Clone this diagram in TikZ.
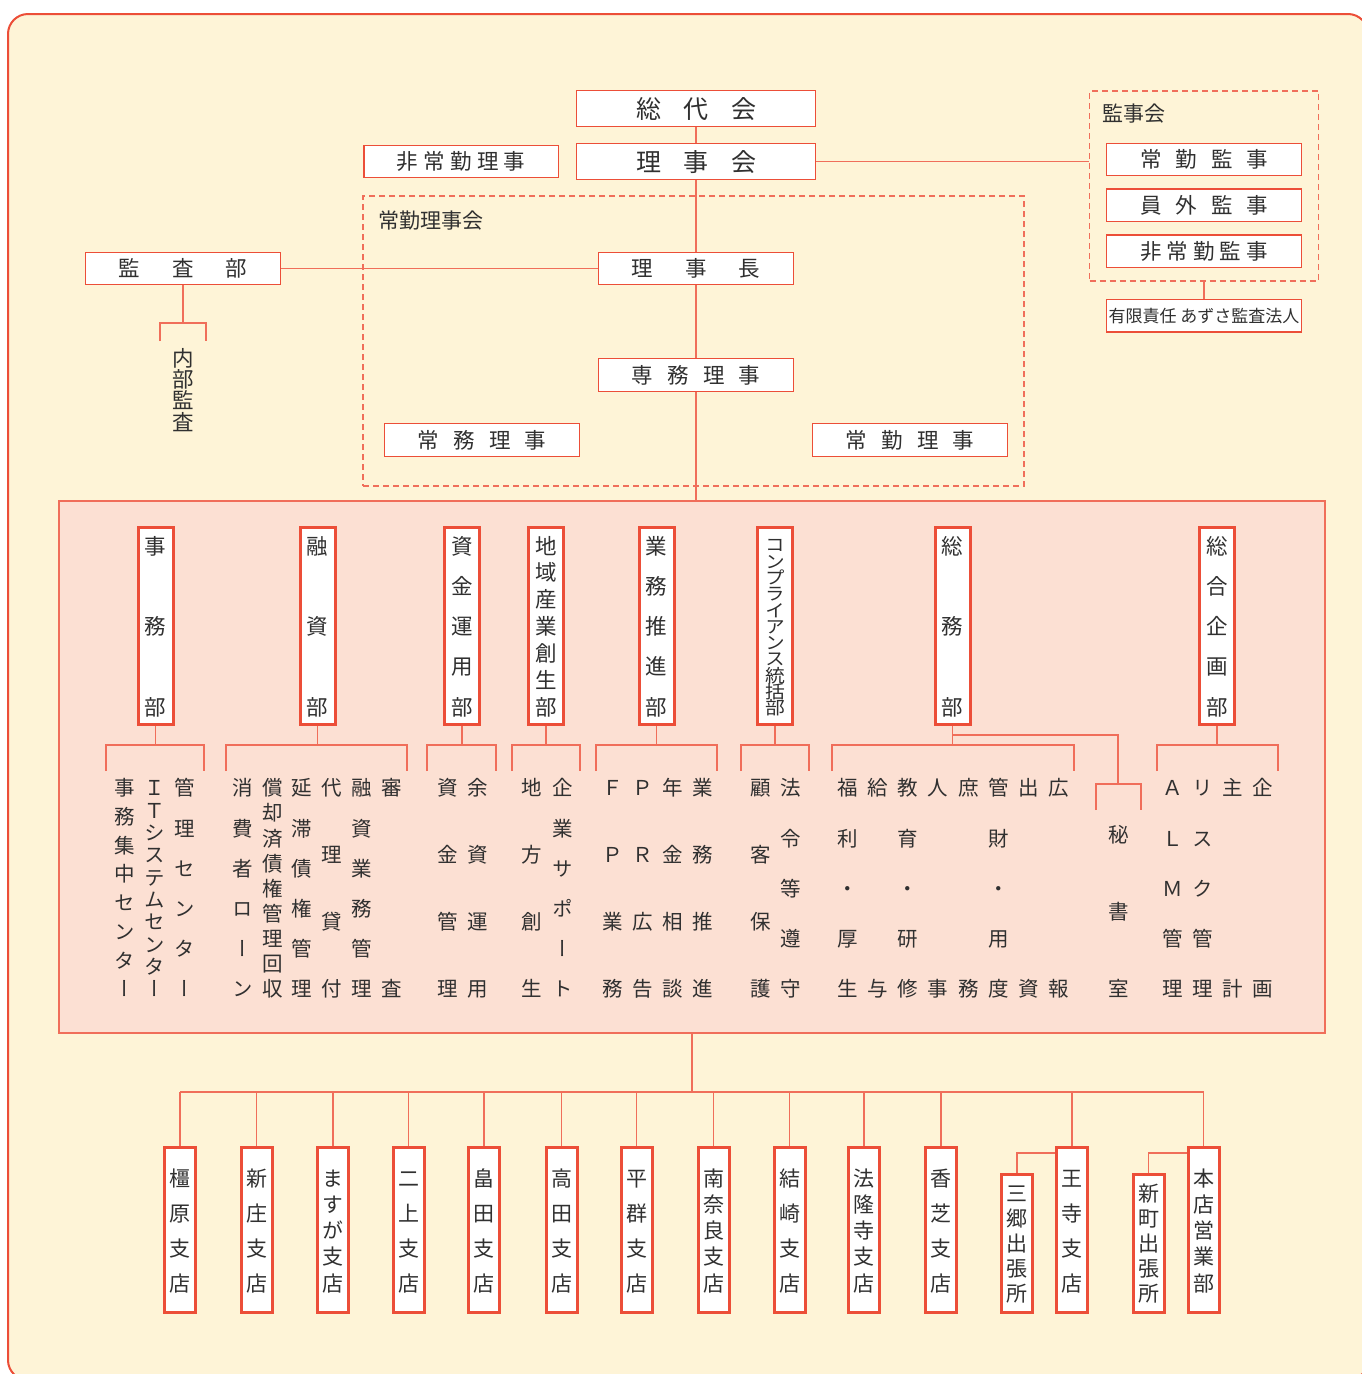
\documentclass[tikz,border=0pt]{standalone}
\usepackage{fontspec}
\setmainfont{Noto Sans CJK JP}
\newfontfamily\tatefont[RawFeature=+vert]{Noto Sans CJK JP}
\newfontfamily\tatewide[RawFeature=+vert, FakeStretch=1.1]{Noto Sans CJK JP}
\usetikzlibrary{positioning}
\definecolor{soshikiRed}{RGB}{236,78,56}
\definecolor{soshikiLine}{RGB}{240,110,90}
\definecolor{soshikiCream}{RGB}{254,244,215}
\definecolor{soshikiPink}{RGB}{252,224,211}
\definecolor{soshikiText}{RGB}{48,48,48}
% vertical text: style, name, x, first y, last y, count, chars
\newcommand{\tate}[7][]{%
  \foreach \ch [count=\k] in {#7}
    \node[tatechar,#1] (#2-\k) at (#3,{#4+(\k-1)*(#5-#4)/(#6-1)}) {\ch};%
}

\begin{document}
\begin{tikzpicture}[x=1pt, y=-1pt,
        sheet/.style={draw=soshikiRed, line width=2pt, fill=soshikiCream, rounded corners=20pt},
        area/.style={draw=soshikiLine, line width=1.2pt, fill=soshikiPink, minimum width=1266pt, minimum height=532pt, inner sep=0pt},
        council/.style={draw=soshikiLine, line width=1.3pt, dash pattern=on 6pt off 4pt, inner sep=0pt},
        grouplabel/.style={text=soshikiText, font=\fontsize{21}{21}\selectfont, inner sep=0pt, text height=18pt, text depth=2pt, anchor=west},
        officebox/.style={draw=soshikiRed, line width=1.4pt, fill=white, minimum width=194.5pt, minimum height=32.5pt, inner sep=0pt, text=soshikiText, font=\fontsize{21.5}{21.5}\selectfont, text height=18.5pt, text depth=2.2pt},
        topbox/.style={officebox, minimum width=238.5pt, minimum height=35.5pt, font=\fontsize{25}{25}\selectfont, text height=21.5pt, text depth=2.5pt},
        deptbox/.style={draw=soshikiRed, line width=3pt, fill=white, minimum width=35pt, minimum height=197pt, inner sep=0pt},
        branchbox/.style={draw=soshikiRed, line width=3pt, fill=white, minimum width=31pt, inner sep=0pt},
        tatechar/.style={text=soshikiText, font=\tatefont\fontsize{20.5}{20.5}\selectfont, inner sep=0pt, text height=17.6pt, text depth=2pt},
        deptchar/.style={font=\tatefont\fontsize{21.5}{21.5}\selectfont, text height=18.5pt, text depth=2.2pt},
        compchar/.style={font=\tatewide\fontsize{18}{18}\selectfont, text height=15.5pt, text depth=1.8pt},
        branchchar/.style={font=\tatefont\fontsize{21}{21}\selectfont, text height=18pt, text depth=2pt},
        link/.style={draw=soshikiLine, line width=1.3pt}
    ]
    \fill[white] (0,0) rectangle (1362,1374);
    \useasboundingbox (0,0) rectangle (1362,1374);
    \draw[sheet] (8,14) rectangle (1368,1380);

    % Councils
    \node[council, minimum width=661pt, minimum height=290pt] (jokai) at (693.5,341) {};
    \node[grouplabel] (jokai-l) at (378,220) {常勤理事会};
    \node[council, minimum width=229pt, minimum height=190pt] (kanjikai) at (1204,186) {};
    \node[grouplabel] (kanjikai-l) at (1102,113) {監事会};

    % Officers
    \node[topbox] (sodai) at (696,108.5) {総\hspace{22.5pt}代\hspace{22.5pt}会};
    \node[topbox] (rijikai) at (696,161.5) {理\hspace{22.5pt}事\hspace{22.5pt}会};
    \node[officebox, left=17pt of rijikai] (hijokin) {非\hspace{5.3pt}常\hspace{5.3pt}勤\hspace{5.3pt}理\hspace{5.3pt}事};
    \node[officebox] (richo) at (696,268.5) {理\hspace{32pt}事\hspace{32pt}長};
    \node[officebox] (kansa) at (183,268.5) {監\hspace{32pt}査\hspace{32pt}部};
    \node[officebox] (senmu) at (696,375) {専\hspace{14.2pt}務\hspace{14.2pt}理\hspace{14.2pt}事};
    \node[officebox] (jomu) at (482,440) {常\hspace{14.2pt}務\hspace{14.2pt}理\hspace{14.2pt}事};
    \node[officebox] (jokin) at (910,440) {常\hspace{14.2pt}勤\hspace{14.2pt}理\hspace{14.2pt}事};
    \node[officebox] (jokinkanji) at (1204,159.5) {常\hspace{14pt}勤\hspace{14pt}監\hspace{14pt}事};
    \node[officebox, below=12pt of jokinkanji] (ingai) {員\hspace{14pt}外\hspace{14pt}監\hspace{14pt}事};
    \node[officebox, below=12pt of ingai] (hijokinkanji) {非\hspace{5pt}常\hspace{5pt}勤\hspace{5pt}監\hspace{5pt}事};
    \node[officebox, below=17pt of kanjikai, font=\fontsize{17}{17}\selectfont, text height=14.6pt, text depth=1.7pt] (azusa) {有限責任 あずさ監査法人};
    \tate[deptchar]{naibu}{183}{358}{422}{4}{内,部,監,査}

    % Departments
    \node[area] (area) at (692,767) {};
    \node[deptbox] (jimu) at (155.5,626) {};
    \node[deptbox] (yushi) at (317.5,626) {};
    \node[deptbox] (shikin) at (462,626) {};
    \node[deptbox] (chiiki) at (546,626) {};
    \node[deptbox] (gyomu) at (656.5,626) {};
    \node[deptbox] (comp) at (775,626) {};
    \node[deptbox] (somu) at (952.5,626) {};
    \node[deptbox] (sogo) at (1217,626) {};
    \tate[deptchar]{jimu-t}{155.5}{546}{707}{3}{事,務,部}
    \tate[deptchar]{yushi-t}{317.5}{546}{707}{3}{融,資,部}
    \tate[deptchar]{shikin-t}{462}{546}{707}{5}{資,金,運,用,部}
    \tate[deptchar]{chiiki-t}{546}{546}{707}{7}{地,域,産,業,創,生,部}
    \tate[deptchar]{gyomu-t}{656.5}{546}{707}{5}{業,務,推,進,部}
    \tate[compchar]{comp-t}{775}{545}{708}{11}{コ,ン,プ,ラ,イ,ア,ン,ス,統,括,部}
    \tate[deptchar]{somu-t}{952.5}{546}{707}{3}{総,務,部}
    \tate[deptchar]{sogo-t}{1217}{546}{707}{5}{総,合,企,画,部}

    % Sections
    \tate{jimu-a}{125}{788}{989}{8}{事,務,集,中,セ,ン,タ,ー}
    \tate{jimu-b}{155}{788}{989}{10}{Ｉ,Ｔ,シ,ス,テ,ム,セ,ン,タ,ー}
    \tate{jimu-c}{185}{788}{989}{6}{管,理,セ,ン,タ,ー}
    \tate{yushi-a}{243}{788}{989}{6}{消,費,者,ロ,ー,ン}
    \tate{yushi-b}{273}{788}{989}{9}{償,却,済,債,権,管,理,回,収}
    \tate{yushi-c}{302}{788}{989}{6}{延,滞,債,権,管,理}
    \tate{yushi-d}{332}{788}{989}{4}{代,理,貸,付}
    \tate{yushi-e}{362}{788}{989}{6}{融,資,業,務,管,理}
    \tate{yushi-f}{392}{788}{989}{2}{審,査}
    \tate{shikin-a}{448}{788}{989}{4}{資,金,管,理}
    \tate{shikin-b}{478}{788}{989}{4}{余,資,運,用}
    \tate{chiiki-a}{532}{788}{989}{4}{地,方,創,生}
    \tate{chiiki-b}{563}{788}{989}{6}{企,業,サ,ポ,ー,ト}
    \tate{gyomu-a}{613}{788}{989}{4}{Ｆ,Ｐ,業,務}
    \tate{gyomu-b}{643}{788}{989}{4}{Ｐ,Ｒ,広,告}
    \tate{gyomu-c}{673}{788}{989}{4}{年,金,相,談}
    \tate{gyomu-d}{703}{788}{989}{4}{業,務,推,進}
    \tate{comp-a}{761}{788}{989}{4}{顧,客,保,護}
    \tate{comp-b}{791}{788}{989}{5}{法,令,等,遵,守}
    \tate{somu-a}{848}{788}{989}{5}{福,利,・,厚,生}
    \tate{somu-b}{878}{788}{989}{2}{給,与}
    \tate{somu-c}{908}{788}{989}{5}{教,育,・,研,修}
    \tate{somu-d}{938}{788}{989}{2}{人,事}
    \tate{somu-e}{969}{788}{989}{2}{庶,務}
    \tate{somu-f}{999}{788}{989}{5}{管,財,・,用,度}
    \tate{somu-g}{1029}{788}{989}{2}{出,資}
    \tate{somu-h}{1059}{788}{989}{2}{広,報}
    \tate{hisho}{1119}{835}{989}{3}{秘,書,室}
    \tate{sogo-a}{1173}{788}{989}{5}{Ａ,Ｌ,Ｍ,管,理}
    \tate{sogo-b}{1203}{788}{989}{5}{リ,ス,ク,管,理}
    \tate{sogo-c}{1233}{788}{989}{2}{主,計}
    \tate{sogo-d}{1263}{788}{989}{2}{企,画}

    % Branches
    \node[branchbox, minimum height=165pt] (kashihara) at (180,1230) {};
    \node[branchbox, minimum height=165pt] (shinjo) at (256.5,1230) {};
    \node[branchbox, minimum height=165pt] (masuga) at (333,1230) {};
    \node[branchbox, minimum height=165pt] (nijo) at (408.5,1230) {};
    \node[branchbox, minimum height=165pt] (hatake) at (484,1230) {};
    \node[branchbox, minimum height=165pt] (takada) at (561.5,1230) {};
    \node[branchbox, minimum height=165pt] (heguri) at (636.5,1230) {};
    \node[branchbox, minimum height=165pt] (minaminara) at (713.5,1230) {};
    \node[branchbox, minimum height=165pt] (yuzaki) at (789.5,1230) {};
    \node[branchbox, minimum height=165pt] (horyuji) at (864,1230) {};
    \node[branchbox, minimum height=165pt] (kashiba) at (941,1230) {};
    \node[branchbox, minimum height=138pt] (misato) at (1017,1243.5) {};
    \node[branchbox, minimum height=165pt] (oji) at (1072,1230) {};
    \node[branchbox, minimum height=138pt] (shinmachi) at (1148.5,1243.5) {};
    \node[branchbox, minimum height=165pt] (honten) at (1203.5,1230) {};
    \tate[branchchar]{kashihara-t}{180}{1178}{1283}{4}{橿,原,支,店}
    \tate[branchchar]{shinjo-t}{256.5}{1178}{1283}{4}{新,庄,支,店}
    \tate[branchchar]{masuga-t}{333}{1178}{1283}{5}{ま,す,が,支,店}
    \tate[branchchar]{nijo-t}{408.5}{1178}{1283}{4}{二,上,支,店}
    \tate[branchchar]{hatake-t}{484}{1178}{1283}{4}{畠,田,支,店}
    \tate[branchchar]{takada-t}{561.5}{1178}{1283}{4}{高,田,支,店}
    \tate[branchchar]{heguri-t}{636.5}{1178}{1283}{4}{平,群,支,店}
    \tate[branchchar]{minaminara-t}{713.5}{1178}{1283}{5}{南,奈,良,支,店}
    \tate[branchchar]{yuzaki-t}{789.5}{1178}{1283}{4}{結,崎,支,店}
    \tate[branchchar]{horyuji-t}{864}{1178}{1283}{5}{法,隆,寺,支,店}
    \tate[branchchar]{kashiba-t}{941}{1178}{1283}{4}{香,芝,支,店}
    \tate[branchchar]{misato-t}{1017}{1193}{1293}{5}{三,郷,出,張,所}
    \tate[branchchar]{oji-t}{1072}{1178}{1283}{4}{王,寺,支,店}
    \tate[branchchar]{shinmachi-t}{1148.5}{1193}{1293}{5}{新,町,出,張,所}
    \tate[branchchar]{honten-t}{1203.5}{1178}{1283}{5}{本,店,営,業,部}

    % Lines
    \draw[link] (sodai) -- (rijikai);
    \draw[link] (rijikai) -- (richo);
    \draw[link] (richo) -- (senmu);
    \draw[link] (senmu.south) -- (senmu.south |- area.north);
    \draw[link] (kansa) -- (richo);
    \draw[link] (rijikai.east) -- (rijikai.east -| kanjikai.west);
    \draw[link] (kanjikai) -- (azusa);
    \draw[link] (kansa.south) -- (kansa.south |- 0,323) (160,341) |- (206,323) -- (206,341);
    \foreach \d/\l/\r in {jimu/106/204, yushi/226/407, shikin/427/496, chiiki/512/580, gyomu/596/717, comp/741/809, somu/832/1074, sogo/1157/1278}
        \draw[link] (\d.south) -- (\d.south |- 0,745) (\l,771) |- (\r,745) -- (\r,771);
    \draw[link] (somu.south |- 0,735) -| (1118,784) (1096,810) |- (1141,784) -- (1141,810);
    \draw[link] (area.south) -- (area.south |- 0,1092);
    \draw[link] (kashihara.north |- 0,1092) -- (honten.north |- 0,1092);
    \foreach \b in {kashihara,shinjo,masuga,nijo,hatake,takada,heguri,minaminara,yuzaki,horyuji,kashiba,oji,honten}
        \draw[link] (\b.north |- 0,1092) -- (\b.north);
    \draw[link] (oji.west |- 0,1153) -| (misato.north);
    \draw[link] (honten.west |- 0,1153) -| (shinmachi.north);
\end{tikzpicture}
\end{document}
